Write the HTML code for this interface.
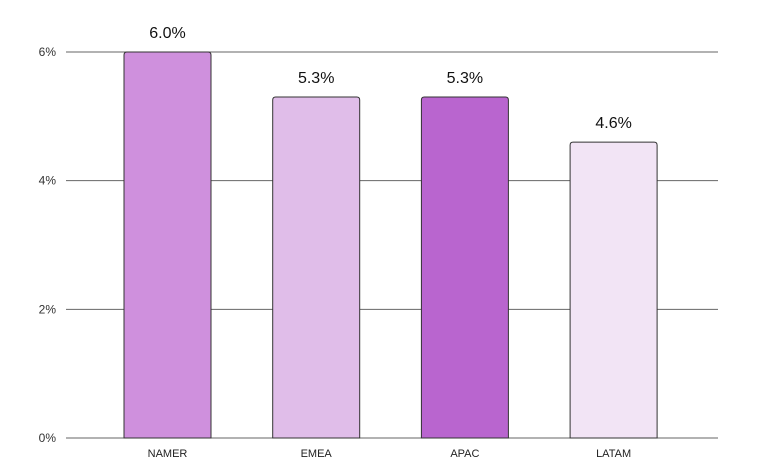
<!DOCTYPE html>
<html><head><meta charset="utf-8"><style>
html,body{margin:0;padding:0;background:#fff;}
svg{display:block;font-family:"Liberation Sans",sans-serif;}
</style></head><body>
<svg id="chart" width="767" height="476" viewBox="0 0 767 476"></svg>
<script>
const categories = ["NAMER","EMEA","APAC","LATAM"];
const values = [6.0,5.3,5.3,4.6];
const valueLabels = ["6.0%","5.3%","5.3%","4.6%"];
const yTicks = [0,2,4,6];
const yTickLabels = ["0%","2%","4%","6%"];
const colors = ["#cf90dd","#e0bde9","#b965cf","#f2e4f5"];

const NS="http://www.w3.org/2000/svg";
const svg=document.getElementById('chart');
const y0=438, y6=52, xL=66, xR=718;
function yScale(v){return y0-(y0-y6)*v/6;}
function xCenter(i){return 167.5+i*148.7;}
const bw=87;
function mk(tag,attrs){const e=document.createElementNS(NS,tag);for(const k in attrs)e.setAttribute(k,attrs[k]);svg.appendChild(e);return e;}

yTicks.forEach((t,i)=>{
  const g=mk('line',{x1:xL,x2:xR,y1:yScale(t),y2:yScale(t),stroke:'#666','stroke-width':1});
  
  
  const tx=mk('text',{x:56,y:yScale(t)+4,'text-anchor':'end','font-size':12,fill:'#333'});
  tx.textContent=yTickLabels[i];
  
  
});

categories.forEach((c,i)=>{
  const x=xCenter(i)-bw/2, yt=yScale(values[i]), h=y0-yt, r=3;
  const p=mk('path',{d:`M${x},${y0} L${x},${yt+r} Q${x},${yt} ${x+r},${yt} L${x+bw-r},${yt} Q${x+bw},${yt} ${x+bw},${yt+r} L${x+bw},${y0} Z`,fill:colors[i],stroke:'#333','stroke-width':1});
  
  
  const v=mk('text',{x:xCenter(i),y:yt-14,'text-anchor':'middle','font-size':16,fill:'#111'});
  v.textContent=valueLabels[i];
  
  
  const cl=mk('text',{x:xCenter(i),y:457,'text-anchor':'middle','font-size':11,fill:'#222'});
  cl.textContent=c;
  
  
});
</script>
</body></html>
